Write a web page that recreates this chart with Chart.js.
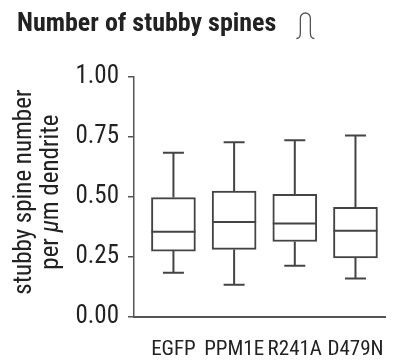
<!DOCTYPE html>
<html>
<head>
<meta charset="utf-8">
<script src="https://cdn.jsdelivr.net/npm/chart.js@4.4.1/dist/chart.umd.min.js"></script>
<style>
  html, body { margin: 0; padding: 0; background: #fff; }
  #wrap { width: 404px; height: 360px; }
</style>
</head>
<body>
<div id="wrap"><canvas id="chart" width="404" height="360"></canvas></div>
<script>
// box plot values
const categories = ['EGFP', 'PPM1E', 'R241A', 'D479N'];
const whiskerLow = [0.185, 0.134, 0.214, 0.161];
const q1 = [0.275, 0.282, 0.315, 0.246];
const median = [0.355, 0.396, 0.390, 0.360];
const q3 = [0.498, 0.525, 0.512, 0.457];
const whiskerHigh = [0.685, 0.729, 0.737, 0.757];
const yTicks = [0, 0.25, 0.5, 0.75, 1];

const titleText = 'Number of stubby spines';
const yTitleLine1 = 'stubby spine number';
const yTitleParts = [['per ', false], ['μ', true], ['m dendrite', false]];

const FONT = "'Roboto Condensed', 'DejaVu Sans Condensed', sans-serif";
const INK = '#444';
const TEXT = '#222';

// whiskers + medians, drawn through the chart scales
const boxPlotExtras = {
    id: 'boxPlotExtras',
    afterDatasetsDraw(chart) {
        const ctx = chart.ctx;
        const x = chart.scales.x;
        const y = chart.scales.y;
        const half = 22;
        const cap = 10.5;
        ctx.save();
        ctx.strokeStyle = INK;
        ctx.lineWidth = 2;
        ctx.lineCap = 'butt';
        categories.forEach((c, i) => {
            const px = x.getPixelForValue(i);
            ctx.beginPath();
            // median
            ctx.moveTo(px - half, y.getPixelForValue(median[i]));
            ctx.lineTo(px + half, y.getPixelForValue(median[i]));
            // upper whisker
            ctx.moveTo(px, y.getPixelForValue(q3[i]));
            ctx.lineTo(px, y.getPixelForValue(whiskerHigh[i]));
            ctx.moveTo(px - cap, y.getPixelForValue(whiskerHigh[i]));
            ctx.lineTo(px + cap, y.getPixelForValue(whiskerHigh[i]));
            // lower whisker
            ctx.moveTo(px, y.getPixelForValue(q1[i]));
            ctx.lineTo(px, y.getPixelForValue(whiskerLow[i]));
            ctx.moveTo(px - cap, y.getPixelForValue(whiskerLow[i]));
            ctx.lineTo(px + cap, y.getPixelForValue(whiskerLow[i]));
            ctx.stroke();
        });
        ctx.restore();
    }
};

// rotated two-line y title (italic mu) and the little spine icon next to the title
const decorations = {
    id: 'decorations',
    afterDraw(chart) {
        const ctx = chart.ctx;
        const area = chart.chartArea;
        const cy = (area.top + area.bottom) / 2 - 5;

        ctx.save();
        ctx.fillStyle = TEXT;
        ctx.translate(area.left - 109, cy);
        ctx.rotate(-Math.PI / 2);
        ctx.textBaseline = 'middle';
        ctx.textAlign = 'center';
        ctx.font = '25px ' + FONT;
        ctx.fillText(yTitleLine1, 0, 0);

        ctx.textAlign = 'left';
        let total = 0;
        yTitleParts.forEach(([t, it]) => {
            ctx.font = (it ? 'italic ' : '') + '25px ' + FONT;
            total += ctx.measureText(t).width;
        });
        let cx = -total / 2;
        yTitleParts.forEach(([t, it]) => {
            ctx.font = (it ? 'italic ' : '') + '25px ' + FONT;
            ctx.fillText(t, cx, 27);
            cx += ctx.measureText(t).width;
        });
        ctx.restore();

        // spine icon
        ctx.save();
        ctx.font = 'bold 26px ' + FONT;
        const x0 = 17 + ctx.measureText(titleText).width + 20;
        ctx.strokeStyle = '#555';
        ctx.lineWidth = 1.3;
        ctx.beginPath();
        ctx.moveTo(x0, 38.5);
        ctx.quadraticCurveTo(x0 + 4, 38.5, x0 + 4, 33);
        ctx.lineTo(x0 + 4, 18);
        ctx.arc(x0 + 9, 18, 5, Math.PI, 0);
        ctx.lineTo(x0 + 14, 33);
        ctx.quadraticCurveTo(x0 + 14, 38.5, x0 + 18, 38.5);
        ctx.stroke();
        ctx.restore();
    }
};

const ctx = document.getElementById('chart').getContext('2d');
new Chart(ctx, {
    type: 'bar',
    data: {
        datasets: [{
            label: 'IQR',
            data: categories.map((c, i) => ({ x: i, y: [q1[i], q3[i]] })),
            backgroundColor: '#fff',
            borderColor: INK,
            borderWidth: 2,
            borderSkipped: false,
            barThickness: 44
        }]
    },
    options: {
        responsive: false,
        animation: false,
        devicePixelRatio: 1,
        layout: { padding: { left: 17, right: 4, top: 0, bottom: 0 } },
        plugins: {
            legend: { display: false },
            tooltip: { enabled: false },
            title: {
                display: true,
                text: titleText,
                align: 'start',
                color: TEXT,
                font: { family: FONT, size: 26, weight: 'bold' },
                padding: { top: 9, bottom: 37 }
            }
        },
        scales: {
            x: {
                type: 'linear',
                offset: false,
                min: -0.65,
                max: 3.5,
                afterBuildTicks: (scale) => {
                    scale.ticks = categories.map((c, i) => ({ value: i }));
                },
                afterFit: (scale) => { scale.height = 43; },
                ticks: {
                    callback: (v) => categories[v] ?? '',
                    color: TEXT,
                    font: { family: FONT, size: 21 },
                    maxRotation: 0,
                    autoSkip: false,
                    padding: 20
                },
                grid: { display: false, drawTicks: false },
                border: { display: true, color: '#555', width: 2 }
            },
            y: {
                min: 0,
                max: 1,
                afterBuildTicks: (scale) => {
                    scale.ticks = yTicks.map(v => ({ value: v }));
                },
                afterFit: (scale) => { scale.width = 117; },
                ticks: {
                    callback: (v) => v.toFixed(2),
                    color: TEXT,
                    font: { family: FONT, size: 25 },
                    padding: 9
                },
                grid: { drawOnChartArea: false, drawTicks: true, tickLength: 6, color: '#555', lineWidth: 1.5 },
                border: { display: true, color: '#555', width: 1.5 }
            }
        }
    },
    plugins: [boxPlotExtras, decorations]
});
</script>
</body>
</html>
